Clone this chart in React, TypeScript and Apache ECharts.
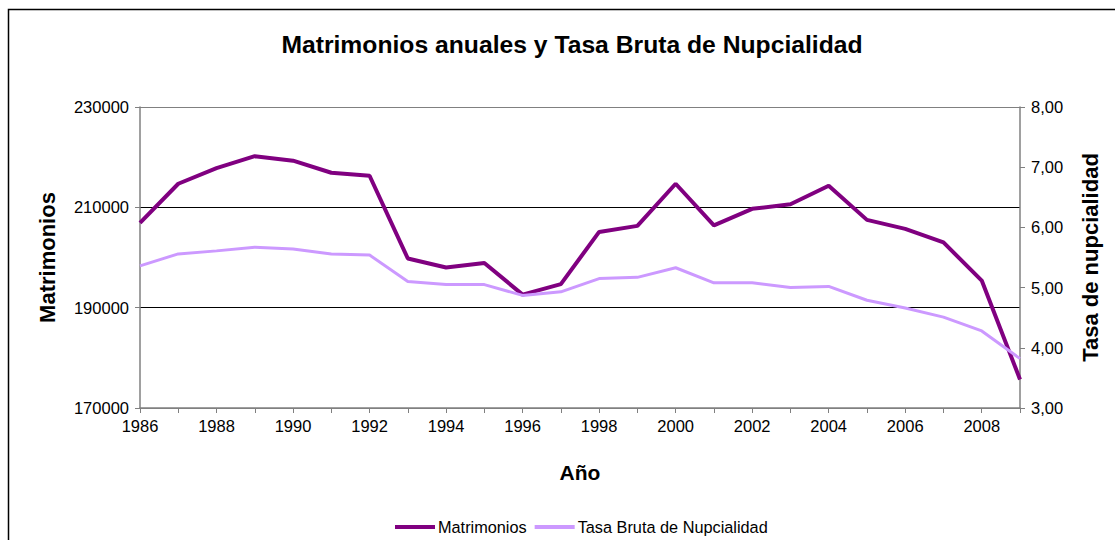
import React, { useEffect, useRef } from "react";
import * as echarts from "echarts";

const years: string[] = [
  "1986", "1987", "1988", "1989", "1990", "1991", "1992", "1993", "1994", "1995", "1996", "1997",
  "1998", "1999", "2000", "2001", "2002", "2003", "2004", "2005", "2006", "2007", "2008", "2009",
];

const matrimonios: number[] = [
  206900, 214700, 217800, 220200, 219300, 216900, 216300, 199800, 198000, 198900, 192600, 194700,
  205100, 206300, 214700, 206400, 209700, 210600, 214300, 207500, 205700, 203000, 195400, 175700,
];

const tasa: number[] = [
  5.36, 5.56, 5.61, 5.67, 5.64, 5.56, 5.54, 5.10, 5.05, 5.05, 4.87, 4.93,
  5.15, 5.17, 5.33, 5.08, 5.08, 5.00, 5.02, 4.79, 4.66, 4.51, 4.28, 3.82,
];

const title = "Matrimonios anuales y Tasa Bruta de Nupcialidad";
const seriesNames = ["Matrimonios", "Tasa Bruta de Nupcialidad"];

const FONT = "'Liberation Sans', Arial, sans-serif";

export default function App() {
  const ref = useRef<HTMLDivElement>(null);

  useEffect(() => {
    if (!ref.current) return;
    const chart = echarts.init(ref.current, null, { renderer: "svg" });
    chart.setOption({
      animation: false,
      backgroundColor: "#fff",
      textStyle: { fontFamily: FONT, color: "#000" },
      title: {
        text: title,
        left: 567,
        textAlign: "center",
        top: 27,
        textStyle: { fontFamily: FONT, fontSize: 24.7, fontWeight: "bold", color: "#000" },
      },
      graphic: [
        {
          type: "rect",
          shape: { x: 8.5, y: 9.5, width: 1300, height: 700 },
          style: { fill: "none", stroke: "#000", lineWidth: 1.5 },
          silent: true,
        },
      ],
      legend: {
        left: 390,
        top: 514,
        itemGap: 8,
        itemWidth: 40,
        itemHeight: 4,
        icon: "rect",
        textStyle: { fontFamily: FONT, fontSize: 16.3, color: "#000", padding: [0, 0, 0, -2] },
        data: seriesNames,
      },
      grid: { left: 140, right: 95, top: 107, bottom: 132, containLabel: false },
      xAxis: {
        type: "category",
        data: years,
        boundaryGap: false,
        name: "Año",
        nameLocation: "middle",
        nameGap: 54,
        nameTextStyle: { fontFamily: FONT, fontSize: 21, fontWeight: "bold", color: "#000" },
        axisLine: { lineStyle: { color: "#808080", width: 1.5 } },
        axisTick: { show: true, interval: 0, length: 5, lineStyle: { color: "#808080" } },
        axisLabel: { interval: 1, margin: 9, fontFamily: FONT, fontSize: 16.5, color: "#000" },
        splitLine: { show: false },
      },
      yAxis: [
        {
          type: "value",
          min: 170000,
          max: 230000,
          interval: 20000,
          name: "Matrimonios",
          nameLocation: "middle",
          nameGap: 82,
          nameTextStyle: { fontFamily: FONT, fontSize: 22, fontWeight: "bold", color: "#000" },
          axisLine: { show: true, lineStyle: { color: "#808080", width: 1.5 } },
          axisTick: { show: true, length: 5, lineStyle: { color: "#808080" } },
          axisLabel: {
            margin: 11,
            fontFamily: FONT,
            fontSize: 16.5,
            color: "#000",
            formatter: (v: number) => String(v),
          },
          splitLine: { show: true, lineStyle: { color: ["#808080", "#000", "#000", "#808080"], width: 1 } },
        },
        {
          type: "value",
          min: 3,
          max: 8,
          interval: 1,
          position: "right",
          name: "Tasa de nupcialidad",
          nameLocation: "middle",
          nameGap: 59,
          nameTextStyle: { fontFamily: FONT, fontSize: 22, fontWeight: "bold", color: "#000" },
          axisLine: { show: true, lineStyle: { color: "#808080", width: 1.5 } },
          axisTick: { show: true, length: 5, lineStyle: { color: "#808080" } },
          axisLabel: {
            margin: 11,
            fontFamily: FONT,
            fontSize: 16.5,
            color: "#000",
            formatter: (v: number) => v.toFixed(2).replace(".", ","),
          },
          splitLine: { show: false },
        },
      ],
      series: [
        {
          name: seriesNames[0],
          type: "line",
          data: matrimonios,
          yAxisIndex: 0,
          symbol: "none",
          itemStyle: { color: "#800080" },
          lineStyle: { color: "#800080", width: 4 },
        },
        {
          name: seriesNames[1],
          type: "line",
          data: tasa,
          yAxisIndex: 1,
          symbol: "none",
          itemStyle: { color: "#CC99FF" },
          lineStyle: { color: "#CC99FF", width: 3 },
        },
      ],
    });
    return () => chart.dispose();
  }, []);

  return (
    <div
      ref={ref}
      style={{ position: "absolute", left: 0, top: 0, width: 1115, height: 540 }}
    />
  );
}
